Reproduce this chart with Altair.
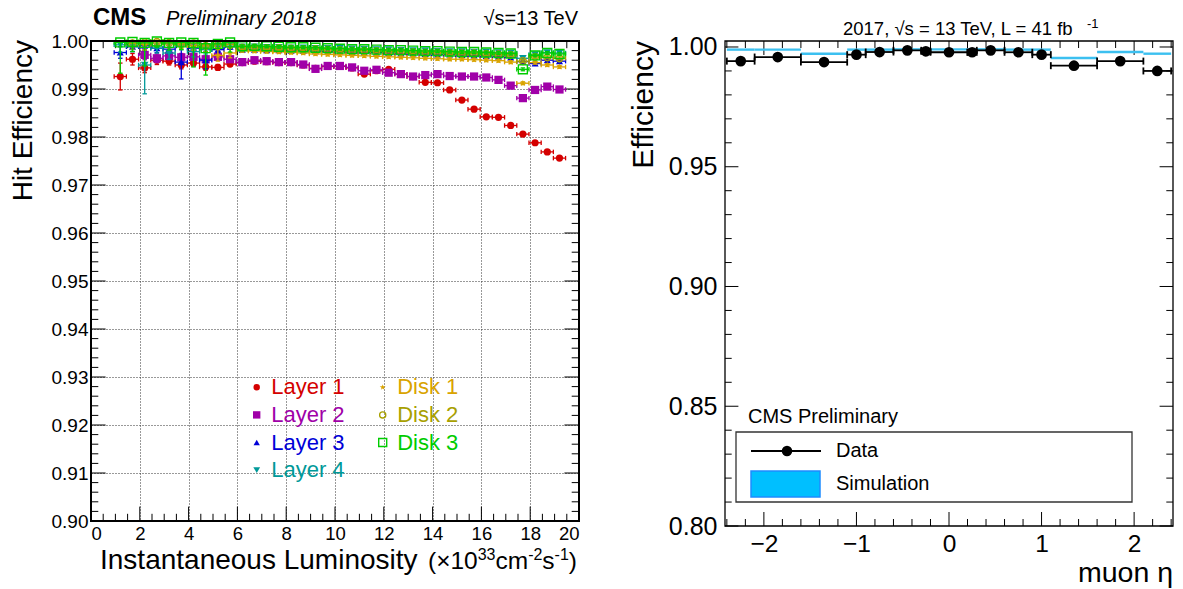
import altair as alt
import numpy as np
import pandas as pd

FONT = "Liberation Sans"

# ---------------- left: pixel hit efficiency vs. instantaneous luminosity ----------------
lumi = [1.2, 1.7, 2.2, 2.7, 3.2, 3.7, 4.2, 4.7, 5.2, 5.7,
        6.2, 6.7, 7.2, 7.7, 8.2, 8.7, 9.2, 9.7, 10.2, 10.7,
        11.2, 11.7, 12.2, 12.7, 13.2, 13.7, 14.2, 14.7, 15.2, 15.7,
        16.2, 16.7, 17.2, 17.7, 18.2, 18.7, 19.2]
lumi_half_bin = 0.25

layer1_eff = [0.9926, 0.9962, 0.9944, 0.9960, 0.9958, 0.9950, 0.9954, 0.9946, 0.9945, 0.9952,
              0.9955, 0.9958, 0.9957, 0.9955, 0.9955, 0.9950, 0.9943, 0.9947, 0.9947, 0.9944,
              0.9931, 0.9938, 0.9941, 0.9931, 0.9926, 0.9914, 0.9913, 0.9898, 0.9877, 0.9858,
              0.9842, 0.9841, 0.9824, 0.9806, 0.9788, 0.9769, 0.9756]
layer1_err = [0.0028, 0.0012, 0.0010, 0.0009, 0.0008, 0.0008, 0.0007, 0.0007, 0.0006, 0.0005,
              0.0004, 0.0004, 0.0003, 0.0003, 0.0003, 0.0003, 0.0003, 0.0003, 0.0003, 0.0003,
              0.0003, 0.0003, 0.0003, 0.0003, 0.0003, 0.0003, 0.0003, 0.0003, 0.0003, 0.0003,
              0.0003, 0.0003, 0.0003, 0.0003, 0.0003, 0.0003, 0.0003]

layer2_eff = [None, None, 0.9971, 0.9964, 0.9969, 0.9966, 0.9967, 0.9962, 0.9967, 0.9962,
              0.9956, 0.9960, 0.9958, 0.9956, 0.9956, 0.9951, 0.9942, 0.9948, 0.9948, 0.9945,
              0.9938, 0.9940, 0.9934, 0.9931, 0.9926, 0.9929, 0.9931, 0.9927, 0.9926, 0.9926,
              0.9924, 0.9919, 0.9907, 0.9881, 0.9898, 0.9905, 0.9899]
layer2_err = [None, None, 0.0010, 0.0009, 0.0008, 0.0008, 0.0007, 0.0007, 0.0006, 0.0005,
              0.0004, 0.0004, 0.0003, 0.0003, 0.0003, 0.0003, 0.0003, 0.0003, 0.0003, 0.0003,
              0.0003, 0.0003, 0.0003, 0.0003, 0.0003, 0.0003, 0.0003, 0.0003, 0.0003, 0.0003,
              0.0003, 0.0003, 0.0003, 0.0003, 0.0003, 0.0003, 0.0003]

layer3_eff = [0.9976, 0.9988, 0.9990, 0.9985, 0.9983, 0.9956, 0.9985, 0.9960, 0.9982, 0.9988,
              0.9982, 0.9982, 0.9981, 0.9981, 0.9980, 0.9980, 0.9979, 0.9978, 0.9978, 0.9977,
              0.9976, 0.9976, 0.9975, 0.9974, 0.9974, 0.9973, 0.9972, 0.9972, 0.9971, 0.9970,
              0.9969, 0.9968, 0.9966, 0.9957, 0.9953, 0.9960, 0.9958]
layer3_err = [0.0012, 0.0010, 0.0010, 0.0009, 0.0009, 0.0035, 0.0007, 0.0018, 0.0006, 0.0005,
              0.0003, 0.0003, 0.0003, 0.0003, 0.0003, 0.0003, 0.0003, 0.0003, 0.0003, 0.0003,
              0.0003, 0.0003, 0.0003, 0.0003, 0.0003, 0.0003, 0.0003, 0.0003, 0.0003, 0.0003,
              0.0003, 0.0003, 0.0003, 0.0003, 0.0003, 0.0003, 0.0003]

layer4_eff = [0.9992, 0.9990, 0.9950, 0.9985, 0.9975, 0.9990, 0.9978, 0.9982, 0.9990, 0.9992,
              0.9988, 0.9988, 0.9987, 0.9987, 0.9986, 0.9986, 0.9985, 0.9985, 0.9985, 0.9984,
              0.9983, 0.9982, 0.9982, 0.9981, 0.9980, 0.9980, 0.9979, 0.9978, 0.9978, 0.9977,
              0.9977, 0.9976, 0.9975, 0.9964, 0.9972, 0.9976, 0.9975]
layer4_err = [0.0015, 0.0012, 0.0060, 0.0010, 0.0013, 0.0008, 0.0011, 0.0009, 0.0006, 0.0005,
              0.0003, 0.0003, 0.0003, 0.0003, 0.0003, 0.0003, 0.0003, 0.0003, 0.0003, 0.0003,
              0.0003, 0.0003, 0.0003, 0.0003, 0.0003, 0.0003, 0.0003, 0.0003, 0.0003, 0.0003,
              0.0003, 0.0003, 0.0003, 0.0003, 0.0003, 0.0003, 0.0003]

disk1_eff = [None, 0.9998, 0.9993, 0.9999, 0.9996, 0.9995, 0.9990, 0.9993, 0.9970, 0.9975,
             0.9980, 0.9979, 0.9978, 0.9977, 0.9976, 0.9975, 0.9973, 0.9972, 0.9971, 0.9970,
             0.9969, 0.9968, 0.9967, 0.9966, 0.9965, 0.9964, 0.9963, 0.9962, 0.9962, 0.9961,
             0.9960, 0.9959, 0.9956, 0.9912, 0.9955, 0.9950, 0.9946]
disk1_err = [None, 0.0010, 0.0012, 0.0008, 0.0010, 0.0008, 0.0009, 0.0008, 0.0012, 0.0010,
             0.0003, 0.0003, 0.0003, 0.0003, 0.0003, 0.0003, 0.0003, 0.0003, 0.0003, 0.0003,
             0.0003, 0.0003, 0.0003, 0.0003, 0.0003, 0.0003, 0.0003, 0.0003, 0.0003, 0.0003,
             0.0003, 0.0003, 0.0003, 0.0003, 0.0003, 0.0003, 0.0003]

disk2_eff = [None, 0.9995, 0.9997, 0.9998, 0.9996, 0.9994, 0.9995, 0.9990, 0.9992, 0.9993,
             0.9986, 0.9986, 0.9985, 0.9985, 0.9984, 0.9983, 0.9983, 0.9982, 0.9981, 0.9980,
             0.9980, 0.9979, 0.9978, 0.9978, 0.9977, 0.9976, 0.9976, 0.9975, 0.9974, 0.9974,
             0.9973, 0.9972, 0.9971, 0.9958, 0.9967, 0.9966, 0.9964]
disk2_err = [None, 0.0012, 0.0015, 0.0008, 0.0010, 0.0010, 0.0009, 0.0012, 0.0008, 0.0007,
             0.0003, 0.0003, 0.0003, 0.0003, 0.0003, 0.0003, 0.0003, 0.0003, 0.0003, 0.0003,
             0.0003, 0.0003, 0.0003, 0.0003, 0.0003, 0.0003, 0.0003, 0.0003, 0.0003, 0.0003,
             0.0003, 0.0003, 0.0003, 0.0003, 0.0003, 0.0003, 0.0003]

disk3_eff = [0.9997, 0.9998, 0.9996, 0.9999, 0.9996, 0.9997, 0.9996, 0.9985, 0.9994, 0.9997,
             0.9989, 0.9990, 0.9989, 0.9988, 0.9987, 0.9987, 0.9986, 0.9985, 0.9984, 0.9983,
             0.9983, 0.9982, 0.9981, 0.9981, 0.9980, 0.9979, 0.9979, 0.9978, 0.9977, 0.9977,
             0.9976, 0.9975, 0.9974, 0.9941, 0.9970, 0.9975, 0.9973]
disk3_err = [0.0064, 0.0020, 0.0048, 0.0012, 0.0015, 0.0015, 0.0050, 0.0056, 0.0010, 0.0020,
             0.0003, 0.0003, 0.0003, 0.0003, 0.0003, 0.0003, 0.0003, 0.0003, 0.0003, 0.0003,
             0.0003, 0.0003, 0.0003, 0.0003, 0.0003, 0.0003, 0.0003, 0.0003, 0.0003, 0.0003,
             0.0003, 0.0003, 0.0003, 0.0003, 0.0003, 0.0003, 0.0003]

series_names = ["Layer 1", "Layer 2", "Layer 3", "Layer 4", "Disk 1", "Disk 2", "Disk 3"]
series_colors = ["#d40000", "#a000a8", "#0000d8", "#009999", "#d9a300", "#a8a000", "#00cc00"]
series_eff = [layer1_eff, layer2_eff, layer3_eff, layer4_eff, disk1_eff, disk2_eff, disk3_eff]
series_err = [layer1_err, layer2_err, layer3_err, layer4_err, disk1_err, disk2_err, disk3_err]

lumi_ticks = [0, 2, 4, 6, 8, 10, 12, 14, 16, 18, 20]
hit_ticks = [0.90, 0.91, 0.92, 0.93, 0.94, 0.95, 0.96, 0.97, 0.98, 0.99, 1.00]

# ---------------- right: muon efficiency vs. eta ----------------
eta_lo = [-2.4, -2.1, -1.6, -1.1, -0.9, -0.6, -0.3, -0.2, 0.2, 0.3, 0.6, 0.9, 1.1, 1.6, 2.1]
eta_hi = [-2.1, -1.6, -1.1, -0.9, -0.6, -0.3, -0.2, 0.2, 0.3, 0.6, 0.9, 1.1, 1.6, 2.1, 2.4]
data_eff = [0.9941, 0.9958, 0.9937, 0.9968, 0.9979, 0.9986, 0.9982, 0.9978,
            0.9978, 0.9986, 0.9978, 0.9968, 0.9922, 0.9941, 0.9900]
sim_eff = [0.9989, 0.9989, 0.9972, 0.9989, 0.9989, 0.9990, 0.9990, 0.9990,
           0.9990, 0.9990, 0.9989, 0.9989, 0.9954, 0.9979, 0.9972]
eta_ticks = [-2, -1, 0, 1, 2]
eff_ticks = [0.80, 0.85, 0.90, 0.95, 1.00]

# ---------------- geometry and helpers ----------------
W1, H1 = 488, 480
W2, H2 = 448, 485
DUMMY = pd.DataFrame({"k": [0]})

STAR = ("M0,-1L0.225,-0.309L0.951,-0.309L0.363,0.118L0.588,0.809L0,0.382"
        "L-0.588,0.809L-0.363,0.118L-0.951,-0.309L-0.225,-0.309Z")
VCAP = "M-1,0L1,0"
HCAP = "M0,-1L0,1"

# marker style of each series: (shape, size, filled, stroke width)
marker_style = [
    ("circle", 52, True, 1),
    ("square", 68, True, 1),
    ("triangle-up", 50, True, 1),
    ("triangle-down", 58, True, 1),
    (STAR, 48, True, 1),
    ("circle", 48, False, 1.3),
    ("square", 80, False, 1.4),
]

# Arial / Liberation Sans advance widths (em) for the characters used in
# the composed luminosity unit
ADV = {"(": 0.333, ")": 0.333, "×": 0.584, "0": 0.556, "1": 0.556, "2": 0.556,
       "3": 0.556, "c": 0.5, "m": 0.833, "s": 0.5, "-": 0.333}


def text(s, x, y, size, align="left", baseline="alphabetic", angle=0,
         weight="normal", style="normal", color="black"):
    return alt.Chart(DUMMY).mark_text(
        text=s, align=align, baseline=baseline, angle=angle, fontSize=size,
        fontWeight=weight, fontStyle=style, color=color, font=FONT,
    ).encode(x=alt.value(x), y=alt.value(y))


def rich_text(pieces, x_right, y, size, sup_size, rise):
    """Right-aligned run of normal and superscript pieces."""
    widths = [sum(ADV[c] for c in s) * (sup_size if sup else size) for s, sup in pieces]
    x = x_right - sum(widths)
    out = []
    for (s, sup), w in zip(pieces, widths):
        out.append(text(s, x, y - rise if sup else y, sup_size if sup else size))
        x += w
    return out


def frame(W, H, sw):
    return alt.Chart(DUMMY).mark_rect(
        fill="white", fillOpacity=0, stroke="black", strokeWidth=sw
    ).encode(x=alt.value(0), x2=alt.value(W), y=alt.value(0), y2=alt.value(H))


def ticks(X, Y, W, H, xmaj, xmin, ymaj, ymin, xlen, ylen, sw=1):
    out = []
    for vals, L in [(ymaj, ylen[0]), (ymin, ylen[1])]:
        d = pd.DataFrame({"v": vals})
        out.append(alt.Chart(d).mark_rule(color="black", strokeWidth=sw).encode(
            y=Y("v:Q"), x=alt.value(0), x2=alt.value(L)))
        out.append(alt.Chart(d).mark_rule(color="black", strokeWidth=sw).encode(
            y=Y("v:Q"), x=alt.value(W - L), x2=alt.value(W)))
    for vals, L in [(xmaj, xlen[0]), (xmin, xlen[1])]:
        d = pd.DataFrame({"v": vals})
        out.append(alt.Chart(d).mark_rule(color="black", strokeWidth=sw).encode(
            x=X("v:Q"), y=alt.value(H - L), y2=alt.value(H)))
        out.append(alt.Chart(d).mark_rule(color="black", strokeWidth=sw).encode(
            x=X("v:Q"), y=alt.value(0), y2=alt.value(L)))
    return out


# ---------------- left panel ----------------
xs1 = alt.Scale(domain=[0, 20], nice=False, zero=False)
ys1 = alt.Scale(domain=[0.90, 1.00], nice=False, zero=False)
ax1 = alt.Axis(values=lumi_ticks, format="d", labelFont=FONT, labelFontSize=18.5,
               labelColor="black", labelPadding=3, ticks=False, domain=False,
               grid=True, gridDash=[1, 2], gridColor="#333333", gridWidth=1, title=None)
ay1 = alt.Axis(values=hit_ticks, format=".2f", labelFont=FONT, labelFontSize=19,
               labelColor="black", labelPadding=3, ticks=False, domain=False,
               grid=True, gridDash=[1, 2], gridColor="#333333", gridWidth=1, title=None)


def X1(f, **kw):
    return alt.X(f, scale=xs1, axis=ax1, **kw)


def Y1(f, **kw):
    return alt.Y(f, scale=ys1, axis=ay1, **kw)


left_layers = [
    # keeps the page origin fixed at the top-left corner
    alt.Chart(DUMMY).mark_rule(opacity=0, strokeWidth=0).encode(
        x=alt.value(-91), x2=alt.value(-91), y=alt.value(-41), y2=alt.value(-41)),
]

lumi_minor = [i * 0.5 for i in range(41) if i % 4 != 0]
hit_minor = [round(0.90 + i * 0.002, 3) for i in range(51) if i % 5 != 0]
left_layers += ticks(X1, Y1, W1, H1, lumi_ticks, lumi_minor, hit_ticks, hit_minor,
                     (14.4, 7.2), (14.6, 7.3), sw=1)

for i, (name, color) in enumerate(zip(series_names, series_colors)):
    shape, size, filled, msw = marker_style[i]
    df = pd.DataFrame({"lumi": lumi, "eff": series_eff[i], "err": series_err[i]}).dropna()
    df["lo"] = df["eff"] - df["err"]
    df["hi"] = np.minimum(df["eff"] + df["err"], 1.0)
    df["xlo"] = df["lumi"] - lumi_half_bin
    df["xhi"] = df["lumi"] + lumi_half_bin
    caps = pd.concat([
        pd.DataFrame({"cx": df["lumi"], "cy": df["lo"], "s": VCAP}),
        pd.DataFrame({"cx": df["lumi"], "cy": df["hi"], "s": VCAP}),
        pd.DataFrame({"cx": df["xlo"], "cy": df["eff"], "s": HCAP}),
        pd.DataFrame({"cx": df["xhi"], "cy": df["eff"], "s": HCAP}),
    ])
    left_layers += [
        alt.Chart(df).mark_rule(color=color, strokeWidth=1.3).encode(
            x=X1("lumi:Q"), y=Y1("lo:Q"), y2="hi:Q"),
        alt.Chart(df).mark_rule(color=color, strokeWidth=1.3).encode(
            x=X1("xlo:Q"), x2="xhi:Q", y=Y1("eff:Q")),
        alt.Chart(caps).mark_point(filled=False, color=color, size=20, strokeWidth=1.3,
                                   opacity=1).encode(
            x=X1("cx:Q"), y=Y1("cy:Q"), shape=alt.Shape("s:N", scale=None)),
        alt.Chart(df).mark_point(shape=shape, size=size, filled=filled, color=color,
                                 strokeWidth=msw, opacity=1).encode(
            x=X1("lumi:Q"), y=Y1("eff:Q")),
    ]
    # legend entry: layers in the first column, disks in the second
    col = 0 if i < 4 else 1
    row = i if i < 4 else i - 4
    px = 165.7 + 126 * col
    py = 346.3 + 27.6 * row
    left_layers += [
        alt.Chart(DUMMY).mark_point(shape=shape, size=size * 0.8, filled=filled, color=color,
                                    strokeWidth=msw, opacity=1).encode(
            x=alt.value(px), y=alt.value(py)),
        text(name, px + 14.5, py, 22, baseline="middle", color=color),
    ]

left_layers += [
    frame(W1, H1, 2),
    text("CMS", 2, -16, 24, weight="bold"),
    text("Preliminary 2018", 75, -16, 20, style="italic"),
    text("√s=13 TeV", W1 - 1, -16, 20, align="right"),
    text("Hit Efficiency", -59, -1, 28, align="right", angle=270),
    text("Instantaneous Luminosity", 9, 528, 28),
]
left_layers += rich_text(
    [("(×10", False), ("33", True), ("cm", False), ("-2", True),
     ("s", False), ("-1", True), (")", False)],
    W1 - 2, 528, 24.5, 16, 9)

left = alt.layer(*left_layers).properties(width=W1, height=H1)

# ---------------- right panel ----------------
xs2 = alt.Scale(domain=[-2.42, 2.42], nice=False, zero=False)
ys2 = alt.Scale(domain=[0.80, 1.0025], nice=False, zero=False)
ax2 = alt.Axis(values=eta_ticks, format="d", labelFont=FONT, labelFontSize=24.5,
               labelColor="black", labelPadding=6, ticks=False, domain=False,
               grid=False, title=None)
ay2 = alt.Axis(values=eff_ticks, format=".2f", labelFont=FONT, labelFontSize=25,
               labelColor="black", labelPadding=8, ticks=False, domain=False,
               grid=False, title=None)


def X2(f, **kw):
    return alt.X(f, scale=xs2, axis=ax2, **kw)


def Y2(f, **kw):
    return alt.Y(f, scale=ys2, axis=ay2, **kw)


eta_minor = [round(-2.4 + 0.2 * i, 1) for i in range(25) if (i - 2) % 5 != 0]
eff_minor = [round(0.80 + 0.01 * i, 2) for i in range(21) if i % 5 != 0]

mu = pd.DataFrame({"lo": eta_lo, "hi": eta_hi, "eff": data_eff, "sim": sim_eff})
mu["eta"] = (mu["lo"] + mu["hi"]) / 2
mu_caps = pd.concat([
    pd.DataFrame({"cx": mu["lo"], "cy": mu["eff"]}),
    pd.DataFrame({"cx": mu["hi"], "cy": mu["eff"]}),
])

right_layers = ticks(X2, Y2, W2, H2, eta_ticks, eta_minor, eff_ticks, eff_minor,
                     (14, 7), (13.4, 6.7), sw=1)
right_layers += [
    # simulation
    alt.Chart(mu).mark_rule(color="#3cc0f0", strokeWidth=2.4).encode(
        x=X2("lo:Q"), x2="hi:Q", y=Y2("sim:Q")),
    # data
    alt.Chart(mu).mark_rule(color="black", strokeWidth=1.8).encode(
        x=X2("lo:Q"), x2="hi:Q", y=Y2("eff:Q")),
    alt.Chart(mu_caps).mark_point(shape=HCAP, size=49, filled=False, color="black",
                                  strokeWidth=1.8, opacity=1).encode(
        x=X2("cx:Q"), y=Y2("cy:Q")),
    alt.Chart(mu).mark_point(shape="circle", size=115, filled=True, color="black",
                             opacity=1).encode(x=X2("eta:Q"), y=Y2("eff:Q")),
    frame(W2, H2, 1.3),
    # legend
    text("CMS Preliminary", 23, 382, 20),
    alt.Chart(DUMMY).mark_rect(fill="white", stroke="#333333", strokeWidth=1.3).encode(
        x=alt.value(11), x2=alt.value(407), y=alt.value(391), y2=alt.value(461)),
    alt.Chart(DUMMY).mark_rule(color="black", strokeWidth=1.8).encode(
        x=alt.value(26), x2=alt.value(96), y=alt.value(410)),
    alt.Chart(DUMMY).mark_point(shape="circle", size=110, filled=True, color="black",
                                opacity=1).encode(x=alt.value(62), y=alt.value(410)),
    text("Data", 111, 410, 20, baseline="middle"),
    alt.Chart(DUMMY).mark_rect(fill="#00bfff", stroke="#1e8cff", strokeWidth=1.5).encode(
        x=alt.value(26), x2=alt.value(95), y=alt.value(430), y2=alt.value(456)),
    text("Simulation", 111, 443, 20, baseline="middle"),
    # titles
    text("2017,  √s = 13 TeV, L = 41 fb", 118, -6, 18.5),
    text("-1", 362, -13, 13),
    text("Efficiency", -72, 0, 30, align="right", angle=270),
    text("muon η", W2, 541, 28.5, align="right"),
]

right = alt.layer(*right_layers).properties(width=W2, height=H2)

chart = (
    alt.hconcat(left, right, spacing=146, bounds="flush")
    .properties(padding=0)
    .configure_view(strokeWidth=0)
)
chart.save("out.html", embed_options={"renderer": "svg", "actions": False})
